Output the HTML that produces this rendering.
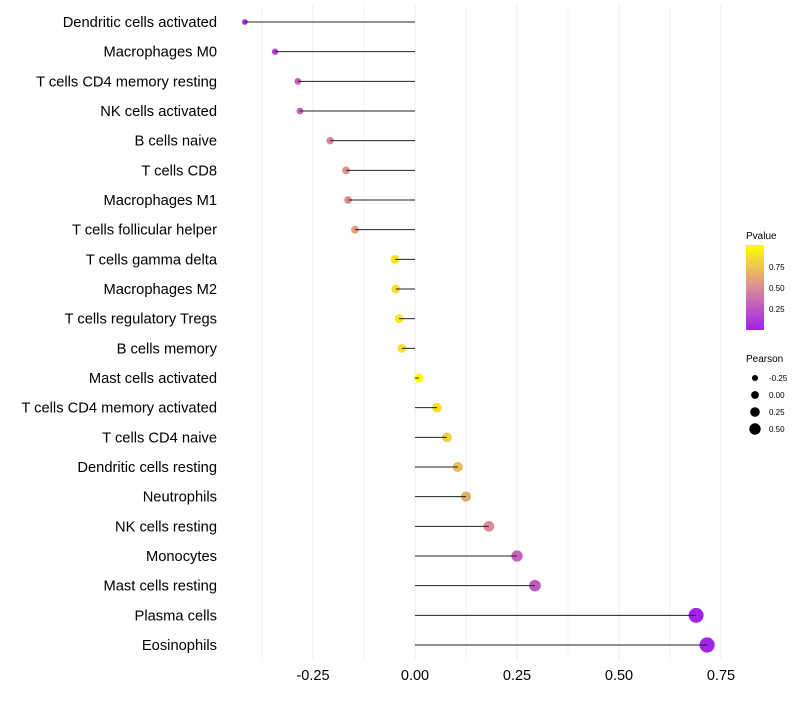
<!DOCTYPE html>
<html><head><meta charset="utf-8"><style>
body{margin:0;background:#fff;font-family:"Liberation Sans",sans-serif}
svg text{font-family:"Liberation Sans",sans-serif}
</style></head><body>
<svg id="chart" width="800" height="700" xmlns="http://www.w3.org/2000/svg">
<defs><linearGradient id="pg" x1="0" y1="1" x2="0" y2="0">
<stop offset="0" stop-color="#a020f0"/><stop offset="0.5" stop-color="#dc8c98"/><stop offset="1" stop-color="#ffff00"/></linearGradient></defs>
<g id="grid"></g>
<g id="marks"></g>
<g id="ylabels"></g>
<g id="xlabels"></g>
<g>
<text x="746" y="239" font-size="10" fill="#000">Pvalue</text>
<rect x="746" y="245" width="18" height="85" fill="url(#pg)"/>
<text x="769" y="270" font-size="8">0.75</text>
<text x="769" y="291" font-size="8">0.50</text>
<text x="769" y="312" font-size="8">0.25</text>
</g>
<g id="sizeleg">
<text x="746" y="362" font-size="10">Pearson</text>
</g>
</svg>
<script>
const categories=["Dendritic cells activated","Macrophages M0","T cells CD4 memory resting","NK cells activated","B cells naive","T cells CD8","Macrophages M1","T cells follicular helper","T cells gamma delta","Macrophages M2","T cells regulatory  Tregs ","B cells memory","Mast cells activated","T cells CD4 memory activated","T cells CD4 naive","Dendritic cells resting","Neutrophils","NK cells resting","Monocytes","Mast cells resting","Plasma cells","Eosinophils"];
const pearson=[-0.417,-0.343,-0.287,-0.282,-0.208,-0.169,-0.164,-0.147,-0.049,-0.047,-0.039,-0.032,0.010,0.054,0.078,0.105,0.125,0.181,0.250,0.294,0.689,0.716];
const pvalue=[0.05,0.15,0.3,0.3,0.45,0.53,0.53,0.6,0.88,0.86,0.9,0.88,0.98,0.86,0.8,0.7,0.64,0.5,0.3,0.27,0.02,0.02];
const xTicks=[-0.25,0,0.25,0.5,0.75];
const xTickLabels=["-0.25","0.00","0.25","0.50","0.75"];
const legendPearson=[-0.25,0,0.25,0.5];
const NS="http://www.w3.org/2000/svg";
const xs=v=>415+v*408;
const ys=i=>22+i*29.667;
const rs=v=>4.6+4.2*v;
function lerp(a,b,t){return a.map((c,i)=>Math.round(c+(b[i]-c)*t));}
function col(p){const c0=[160,32,240],c1=[220,140,152],c2=[255,255,0];
 const c=p<0.5?lerp(c0,c1,p/0.5):lerp(c1,c2,(p-0.5)/0.5);return `rgb(${c.join(',')})`;}
function mk(tag,attrs,parent){const e=document.createElementNS(NS,tag);for(const k in attrs)e.setAttribute(k,attrs[k]);parent.appendChild(e);return e;}
const grid=document.getElementById('grid'),marks=document.getElementById('marks'),yl=document.getElementById('ylabels'),xl=document.getElementById('xlabels');
for(let v=-0.375;v<=0.8;v+=0.125){
 const l=mk('line',{x1:xs(v),x2:xs(v),y1:5,y2:660,stroke:'#ebebeb','stroke-width':Math.abs((v/0.25)%1)<1e-6?1:0.6},grid);
 
 
}
xTicks.forEach((v,i)=>{
 const t=mk('text',{x:xs(v),y:680,'font-size':14.5,'text-anchor':'middle',fill:'#000'},xl);t.textContent=xTickLabels[i];
 
 
});
categories.forEach((c,i)=>{
 const y=ys(i);
 const t=mk('text',{x:217,y:y+5,'font-size':14.7,'text-anchor':'end',fill:'#000'},yl);t.textContent=c;
 
 
 const d=mk('circle',{cx:xs(pearson[i]),cy:y,r:rs(pearson[i]),fill:col(pvalue[i])},marks);
 
 
 const s=mk('line',{x1:xs(0),x2:xs(pearson[i]),y1:y,y2:y,stroke:'#222','stroke-width':1},marks);
 
 
});
const sl=document.getElementById('sizeleg');
legendPearson.forEach((v,i)=>{
 const y=378+i*17;
 const c=mk('circle',{cx:755,cy:y,r:rs(v)*0.85,fill:'#000'},sl);
 
 
 const t=mk('text',{x:769,y:y+3,'font-size':8},sl);t.textContent=v.toFixed(2);
 
 
});
</script>
</body></html>
